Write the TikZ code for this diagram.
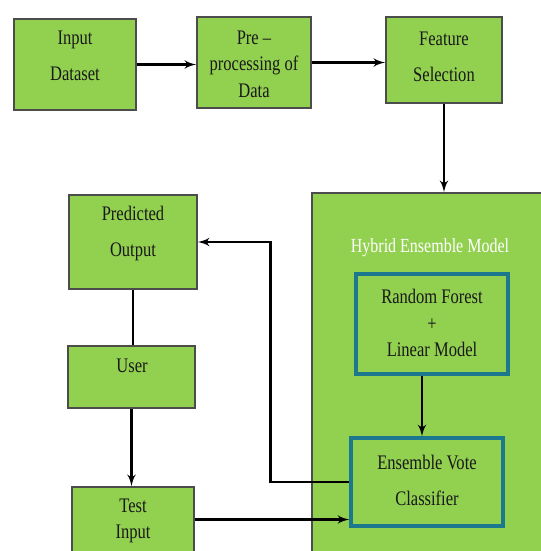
\documentclass[tikz,border=0pt]{standalone}
\usepackage{fontspec}
\setmainfont{Liberation Serif}[FakeStretch=0.8]
\usepackage{xcolor}
\usepackage{tikz}
\usetikzlibrary{shapes,arrows,positioning,calc,fit}
\definecolor{boxgreen}{RGB}{146,208,80}
\definecolor{modelteal}{RGB}{28,120,142}

\begin{document}
\begin{tikzpicture}[x=0.75pt, y=-0.75pt,
    block/.style={rectangle, draw=black!70, fill=boxgreen, line width=1.3pt, inner sep=0pt},
    block_mod/.style={rectangle, draw=modelteal, line width=2.6pt, inner sep=0pt},
    text_wide/.style={align=center, text=black!90, font=\fontsize{15.5}{27}\selectfont},
    text_tight/.style={align=center, text=black!90, font=\fontsize{15.5}{20}\selectfont},
    line/.style={draw, -latex', line width=2pt}]

    \clip (0,0) rectangle (541,551);
    \fill [white] (0,0) rectangle (541,551);

    % Top row
    \node [block, fit={(14,19) (136,110)}] (inp) {};
    \node [text_wide] (inp_t) at (75,56) {Input\\Dataset};
    \node [block, fit={(197,17) (311,108)}] (pre) {};
    \node [text_tight] (pre_t) at (254,64) {Pre --\\processing of\\Data};
    \node [block, fit={(386,17) (502,103)}] (fea) {};
    \node [text_wide] (fea_t) at (444,57) {Feature\\Selection};

    % Right side: hybrid model
    \node [block, fit={(312,193) (548,558)}] (hyb) {};
    \node [text=white, font=\fontsize{15}{16}\selectfont] (hyb_t) at (430,248) {Hybrid Ensemble Model};
    \node [block_mod, fit={(356,274) (508,374)}] (rf) {};
    \node [text_tight] (rf_t) at (432,323) {Random Forest\\+\\Linear Model};
    \node [block_mod, fit={(351,438) (503,526)}] (evc) {};
    \node [text_wide] (evc_t) at (427,480) {Ensemble Vote\\Classifier};

    % Left side: user loop
    \node [block, fit={(69,195) (197,289)}] (pred) {};
    \node [text_wide] (pred_t) at (133,234) {Predicted\\Output};
    \node [block, fit={(68,346) (195,408)}] (usr) {};
    \node [text_wide] (usr_t) at (132,366) {User};
    \node [block, fit={(72,487) (194,552)}] (tst) {};
    \node [text_tight] (tst_t) at (133,521) {Test\\Input};

    % Connectors
    \draw [line] (inp.east) -- (inp.east -| pre.west);
    \draw [line] (pre.east) -- (pre.east -| fea.west);
    \draw [line] (fea.south) -- (fea.south |- hyb.north);
    \draw [line] ([xshift=-7.5pt]rf.south) -- ([xshift=-7.5pt]rf.south |- evc.north);
    \draw [line] (evc.west) -- ++(-79,0) |- (pred.east);
    \draw [line width=2pt] (pred.south) -- (pred.south |- usr.north);
    \draw [line] (usr.south) -- (usr.south |- tst.north);
    \draw [line] (tst.east) -- (tst.east -| evc.west);
\end{tikzpicture}
\end{document}
